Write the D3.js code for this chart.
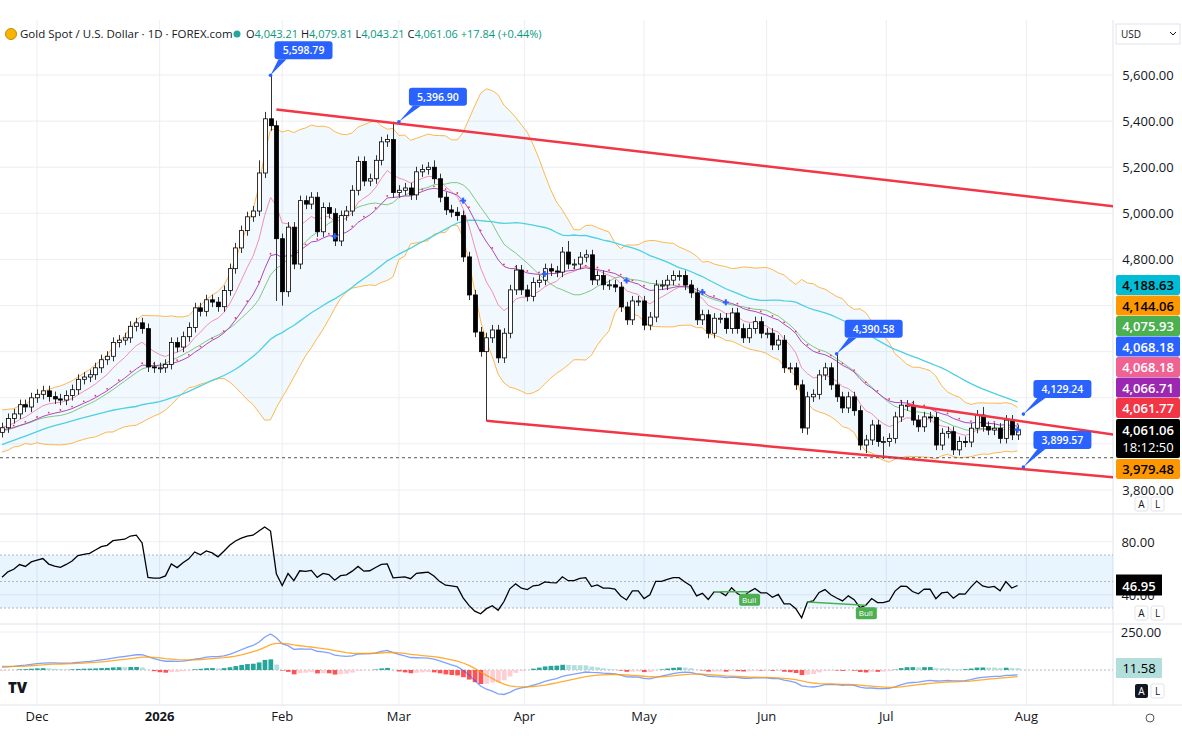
<!DOCTYPE html>
<html>
<head>
<meta charset="utf-8">
<script src="https://d3js.org/d3.v7.min.js"></script>
<style>
  body { margin: 0; background: #fff; font-family: "Open Sans", "Noto Sans", sans-serif; }
  svg text { font-family: "Open Sans", "Noto Sans", sans-serif; }
</style>
</head>
<body>
<svg id="chart" width="1182" height="752"></svg>
<script>
// closes before the visible window (warm-up for the indicators)
var preCloses = [3640,3660,3680,3700,3690,3710,3740,3760,3780,3820,3860,3850,3880,3900,3950,3980,4000,4040,4080,4120,
  4200,4250,4320,4360,4120,4100,4130,4080,3980,4010,4000,3990,3970,4000,3990,4050,4000,4080,4110,4120,
  4140,4080,4060,4030,4050,4070,4080,4050,4070,4100];

// visible daily closes
var closes = [
  4070,4110,4130,4170,4160,4200,
  4215,4230,4205,4195,4190,4210,4235,4280,4290,4300,4330,4365,4380,4440,4450,4460,4510,4525,4500,4334,4330,
  4330,4345,4440,4420,4465,4505,4590,4575,4625,4615,4595,4665,4760,4850,4925,4985,5010,5175,5410,5380,4890,
  4660,4940,4780,5055,5040,5070,4920,5025,5000,4880,4990,5010,5100,5225,5140,5150,5230,5310,5320,5090,
  5100,5110,5080,5180,5190,5200,5150,5070,5015,5005,4990,4811,4646,4485,4400,4460,4494,4373,4480,4668,4754,
  4668,4640,4700,4710,4760,4750,4745,4832,4780,4780,4810,4820,4711,4730,4690,4690,4680,4594,4538,4620,4620,
  4515,4550,4689,4689,4710,4730,4730,4689,4655,4538,4560,4480,4545,4545,4500,4568,4500,4460,4500,4530,
  4480,4480,4429,4450,4330,4330,4256,4069,4204,4215,4299,4330,4256,4204,4156,4204,4144,3995,4017,4082,4010,
  4010,4024,4117,4168,4165,4103,4074,4117,4115,3995,4046,4053,3974,4010,4008,4068,4125,4075,4060,4068,4024,4103,4039,4061.06
];
var firstOpen = 4050;
// notable wick extremes
var highMarks = {46: 5598.79, 67: 5396.90, 143: 4390.58, 44: 5230, 45: 5440, 74: 5230, 97: 4880, 168: 4160};
var lowMarks = {47: 4620, 48: 4600, 83: 4100, 138: 4040, 148: 3960, 151: 3935, 164: 3950};

var monthLabels = ["Dec","2026","Feb","Mar","Apr","May","Jun","Jul","Aug"];
var monthBars = [6, 27, 48, 68, 89.5, 110, 131, 151.5, 175.5];
var priceTicks = [3800,4000,4200,4400,4600,4800,5000,5200,5400,5600];

var tags = [
  {v:"4,188.63", bg:"#00bcd4", fg:"#000"},
  {v:"4,144.06", bg:"#ff9800", fg:"#000"},
  {v:"4,075.93", bg:"#4caf50", fg:"#fff"},
  {v:"4,068.18", bg:"#2962ff", fg:"#fff"},
  {v:"4,068.18", bg:"#f06292", fg:"#fff"},
  {v:"4,066.71", bg:"#9c27b0", fg:"#fff"},
  {v:"4,061.77", bg:"#f23645", fg:"#fff"}
];
var last = closes.length - 1;
var callouts = [
  {bar:46, v:5598.79, dx:4, dy:-20},
  {bar:68, v:5396.90, dx:10, dy:-20},
  {bar:143, v:4390.58, dx:8, dy:-20},
  {bar:last + 1, v:4129.24, dx:10, dy:-20},
  {bar:last + 1, v:3899.57, dx:10, dy:-22}
];
var crossBars = [57, 79, 93, 107, 120, 124, last];

// ---- indicators from the closes
var all = preCloses.concat(closes), off = preCloses.length;
function sma(a, n) { return a.map(function(d, i) { return i < n - 1 ? null : d3.mean(a.slice(i - n + 1, i + 1)); }); }
function ema(a, n) { var k = 2 / (n + 1), out = [], e = a[0]; a.forEach(function(d, i) { e = i ? d * k + e * (1 - k) : d; out.push(e); }); return out; }
var mid = sma(all, 20);
var sd = all.map(function(d, i) { return i < 19 ? null : d3.deviation(all.slice(i - 19, i + 1)) * Math.sqrt(19 / 20); });
var bbU = mid.map(function(m, i) { return m == null ? null : m + 2 * sd[i]; });
var bbL = mid.map(function(m, i) { return m == null ? null : m - 2 * sd[i]; });
var ema9 = ema(all, 9), ema21 = ema(all, 21), sma50 = sma(all, 50), sma20 = mid;
var e12 = ema(all, 12), e26 = ema(all, 26);
var macd = e12.map(function(d, i) { return d - e26[i]; });
var sig = ema(macd, 9);
var rsi = [], ag = 0, al = 0;
all.forEach(function(d, i) {
  if (i === 0) { rsi.push(50); return; }
  var ch = d - all[i - 1], g = Math.max(ch, 0), l = Math.max(-ch, 0);
  if (i <= 14) { ag += g / 14; al += l / 14; } else { ag = (ag * 13 + g) / 14; al = (al * 13 + l) / 14; }
  rsi.push(al === 0 ? 100 : 100 - 100 / (1 + ag / al));
});
function vis(a) { return a.slice(off); }

var svg = d3.select("#chart");
var W = 1113;
var x = d3.scaleBand().domain(d3.range(191)).range([0, W]).paddingInner(0.3);
function cx(i) { return x(Math.floor(i)) + x.bandwidth() / 2 + (i % 1) * x.step(); }
var y = d3.scaleLinear().domain([3800, 5600]).range([490, 75]);
var yr = d3.scaleLinear().domain([30, 70]).range([608, 555]);
var ym = d3.scaleLinear().domain([0, 250]).range([670, 632]);

// grid
var grid = svg.append("g").attr("stroke", "#eceef2");
monthBars.forEach(function(b) { grid.append("line").attr("x1", cx(b)).attr("x2", cx(b)).attr("y1", 20).attr("y2", 705); });
priceTicks.forEach(function(t) { grid.append("line").attr("x1", 0).attr("x2", W).attr("y1", y(t)).attr("y2", y(t)); });
[80, 40].forEach(function(t) { grid.append("line").attr("x1", 0).attr("x2", W).attr("y1", yr(t)).attr("y2", yr(t)); });
grid.append("line").attr("x1", 0).attr("x2", W).attr("y1", ym(250)).attr("y2", ym(250));
// pane separators
[514, 624, 705].forEach(function(v) { svg.append("line").attr("x1", 0).attr("x2", 1182).attr("y1", v).attr("y2", v).attr("stroke", "#e0e3eb"); });
svg.append("line").attr("x1", W).attr("x2", W).attr("y1", 20).attr("y2", 705).attr("stroke", "#e0e3eb");

svg.append("defs").append("clipPath").attr("id", "pc").append("rect").attr("x", 0).attr("y", 20).attr("width", W).attr("height", 494);
var pg = svg.append("g").attr("clip-path", "url(#pc)");

var idx = d3.range(closes.length);
var U = vis(bbU), L = vis(bbL);
pg.append("path").datum(idx).attr("fill", "rgba(33,150,243,0.06)")
  .attr("d", d3.area().x(cx).y0(function(i) { return y(L[i]); }).y1(function(i) { return y(U[i]); }));
function line(arr, color, w) {
  pg.append("path").datum(idx).attr("fill", "none").attr("stroke", color).attr("stroke-width", w || 1)
    .attr("d", d3.line().x(cx).y(function(i) { return y(arr[i]); }));
}
line(U, "#ffb74d"); line(L, "#ffb74d");
line(vis(sma50), "#4dd0e1", 1.3);
line(vis(ema9), "#f48fb1");
line(vis(sma20), "#81c784");
line(vis(ema21), "#ab47bc");
var e21 = vis(ema21);
pg.selectAll(".dot").data(idx.filter(function(i) { return i % 2 === 0; })).enter().append("circle")
  .attr("cx", cx).attr("cy", function(i) { return y(e21[i]) - 2; }).attr("r", 0.9).attr("fill", "#f23645");

// candles
var opens = closes.map(function(c, i) { return i ? closes[i - 1] : firstOpen; });
var cg = pg.append("g");
idx.forEach(function(i) {
  var o = opens[i], c = closes[i];
  var hi = highMarks[i] || Math.max(o, c) + 22, lo = lowMarks[i] || Math.min(o, c) - 22;
  var up = c >= o, xc = Math.round(cx(i)) + 0.5;
  cg.append("line").attr("x1", xc).attr("x2", xc).attr("y1", y(hi)).attr("y2", y(lo)).attr("stroke", "#333");
  cg.append("rect").attr("x", xc - 2).attr("width", 4)
    .attr("y", y(Math.max(o, c))).attr("height", Math.max(1, Math.abs(y(o) - y(c))))
    .attr("fill", up ? "#fff" : "#000").attr("stroke", "#000").attr("stroke-width", 0.8);
});
crossBars.forEach(function(i) {
  var g = pg.append("g").attr("transform", "translate(" + cx(i) + "," + y(i === last ? closes[i] : e21[i]) + ")").attr("stroke", "#2962ff").attr("stroke-width", 2);
  g.append("line").attr("x1", -3).attr("x2", 3); g.append("line").attr("y1", -3).attr("y2", 3);
});

// trend lines
function tl(b1, v1, b2, v2) {
  pg.append("line").attr("x1", cx(b1)).attr("y1", y(v1)).attr("x2", cx(b2)).attr("y2", y(v2))
    .attr("stroke", "#f23645").attr("stroke-width", 2.5);
}
tl(47, 5450, 190.5, 5030);
tl(83, 4100, 190.5, 3855);
tl(155, 4170, 190.5, 4040);
pg.append("line").attr("x1", 0).attr("x2", W).attr("y1", y(3940)).attr("y2", y(3940)).attr("stroke", "#555").attr("stroke-dasharray", "3,3");

// callouts
callouts.forEach(function(c) {
  var px = cx(c.bar), py = y(c.v), bx = px + c.dx, by = py + c.dy;
  var g = svg.append("g");
  g.append("path").attr("d", "M" + px + "," + py + "L" + (bx + 4) + "," + (by + 4) + "L" + (bx + 12) + "," + (by + 4) + "Z").attr("fill", "#2962ff");
  g.append("circle").attr("cx", px).attr("cy", py).attr("r", 1.8).attr("fill", "#2962ff");
  g.append("rect").attr("x", bx).attr("y", by - 14).attr("width", 58).attr("height", 18).attr("rx", 3).attr("fill", "#2962ff");
  g.append("text").attr("x", bx + 29).attr("y", by - 1).attr("text-anchor", "middle").attr("fill", "#fff")
    .attr("font-size", 10.5).attr("font-weight", 600).text(d3.format(",.2f")(c.v));
});

// price axis (labels under the value tags are hidden, as on the chart)
var ax = svg.append("g").attr("font-size", 13).attr("fill", "#131722");
priceTicks.filter(function(t) { return y(t) < 272 || y(t) > 482; }).forEach(function(t) {
  ax.append("text").attr("x", 1148).attr("y", y(t) + 5).attr("text-anchor", "middle").text(d3.format(",.2f")(t));
});
tags.forEach(function(t, k) {
  var ty = 285 + k * 20.5;
  svg.append("rect").attr("x", 1116).attr("y", ty - 10).attr("width", 64).attr("height", 20).attr("fill", t.bg).attr("rx", 2);
  svg.append("text").attr("x", 1148).attr("y", ty + 5).attr("text-anchor", "middle").attr("font-size", 13).attr("font-weight", 600).attr("fill", t.fg).text(t.v);
});
svg.append("rect").attr("x", 1116).attr("y", 419).attr("width", 64).attr("height", 39).attr("fill", "#000").attr("rx", 2);
svg.append("text").attr("x", 1148).attr("y", 435).attr("text-anchor", "middle").attr("font-size", 13).attr("font-weight", 600).attr("fill", "#fff").text("4,061.06");
svg.append("text").attr("x", 1148).attr("y", 452).attr("text-anchor", "middle").attr("font-size", 13).attr("fill", "#fff").text("18:12:50");
svg.append("rect").attr("x", 1116).attr("y", 459).attr("width", 64).attr("height", 20).attr("fill", "#ff9800").attr("rx", 2);
svg.append("text").attr("x", 1148).attr("y", 474).attr("text-anchor", "middle").attr("font-size", 13).attr("font-weight", 600).attr("fill", "#000").text("3,979.48");

// RSI
var rg = svg.append("g");
rg.append("rect").attr("x", 0).attr("y", yr(70)).attr("width", W).attr("height", yr(30) - yr(70)).attr("fill", "rgba(33,150,243,0.1)");
[70, 50, 30].forEach(function(t) { rg.append("line").attr("x1", 0).attr("x2", W).attr("y1", yr(t)).attr("y2", yr(t)).attr("stroke", "#b2b5be").attr("stroke-dasharray", "2,2"); });
var R = vis(rsi);
rg.append("path").datum(idx).attr("fill", "none").attr("stroke", "#000").attr("stroke-width", 1.3)
  .attr("d", d3.line().x(cx).y(function(i) { return yr(R[i]); }));
[[122, 128], [138, 148]].forEach(function(p) {
  rg.append("line").attr("x1", cx(p[0])).attr("y1", yr(R[p[0]])).attr("x2", cx(p[1])).attr("y2", yr(R[p[1]])).attr("stroke", "#4caf50").attr("stroke-width", 1.5);
  rg.append("rect").attr("x", cx(p[1]) - 10).attr("y", yr(R[p[1]]) + 2).attr("width", 21).attr("height", 12).attr("rx", 2).attr("fill", "#4caf50");
  rg.append("text").attr("x", cx(p[1])).attr("y", yr(R[p[1]]) + 11).attr("text-anchor", "middle").attr("font-size", 8).attr("fill", "#fff").text("Bull");
});
ax.append("text").attr("x", 1138).attr("y", yr(80) + 5).attr("text-anchor", "middle").text("80.00");
ax.append("text").attr("x", 1138).attr("y", yr(40) + 5).attr("text-anchor", "middle").text("40.00");
var ry = yr(R[last]);
svg.append("rect").attr("x", 1116).attr("y", ry - 11).attr("width", 46).attr("height", 21).attr("fill", "#000");
svg.append("text").attr("x", 1139).attr("y", ry + 5).attr("text-anchor", "middle").attr("font-size", 13).attr("font-weight", 600).attr("fill", "#fff").text("46.95");

// MACD
var M = vis(macd), S = vis(sig);
var mg = svg.append("g");
mg.append("line").attr("x1", 0).attr("x2", W).attr("y1", ym(0)).attr("y2", ym(0)).attr("stroke", "#b2b5be").attr("stroke-dasharray", "2,2");
idx.forEach(function(i) {
  var h = M[i] - S[i], hp = i ? M[i - 1] - S[i - 1] : h;
  var col = h >= 0 ? (h >= hp ? "#26a69a" : "#b2dfdb") : (h < hp ? "#ff5252" : "#ffcdd2");
  mg.append("rect").attr("x", x(i)).attr("width", x.bandwidth() + 0.6).attr("y", Math.min(ym(0), ym(h))).attr("height", Math.abs(ym(h) - ym(0))).attr("fill", col);
});
mg.append("path").datum(idx).attr("fill", "none").attr("stroke", "#2962ff").attr("stroke-opacity", 0.6).attr("stroke-width", 1.3)
  .attr("d", d3.line().x(cx).y(function(i) { return ym(M[i]); }));
mg.append("path").datum(idx).attr("fill", "none").attr("stroke", "#ff9800").attr("stroke-opacity", 0.8).attr("stroke-width", 1.3)
  .attr("d", d3.line().x(cx).y(function(i) { return ym(S[i]); }));
ax.append("text").attr("x", 1141).attr("y", ym(250) + 5).attr("text-anchor", "middle").text("250.00");
svg.append("rect").attr("x", 1116).attr("y", 658).attr("width", 46).attr("height", 20).attr("fill", "#b2dfdb");
svg.append("text").attr("x", 1139).attr("y", 673).attr("text-anchor", "middle").attr("font-size", 13).attr("fill", "#000").text("11.58");

// time axis
monthLabels.forEach(function(m, k) {
  svg.append("text").attr("x", cx(monthBars[k])).attr("y", 721).attr("text-anchor", "middle").attr("font-size", 13)
    .attr("font-weight", m === "2026" ? 700 : 400).attr("fill", "#131722").text(m);
});

// small buttons
function btn(bx, by, t, dark) {
  svg.append("rect").attr("x", bx).attr("y", by).attr("width", 13).attr("height", 14).attr("rx", 2).attr("fill", dark ? "#131722" : "#fff").attr("stroke", dark ? "none" : "#e0e3eb");
  svg.append("text").attr("x", bx + 6.5).attr("y", by + 11).attr("text-anchor", "middle").attr("font-size", 10).attr("fill", dark ? "#fff" : "#131722").text(t);
}
btn(1135, 497, "A"); btn(1151, 497, "L");
btn(1135, 606, "A"); btn(1151, 606, "L");
btn(1135, 684, "A", true); btn(1151, 684, "L");
svg.append("circle").attr("cx", 1150).attr("cy", 718).attr("r", 4).attr("fill", "none").attr("stroke", "#555");
svg.append("text").attr("x", 8).attr("y", 693).attr("font-size", 15).attr("font-weight", 900).attr("fill", "#131722").text("TV");

// legend
svg.append("circle").attr("cx", 11).attr("cy", 34).attr("r", 5.5).attr("fill", "#f7b500").attr("stroke", "#c88a00");
svg.append("text").attr("x", 20).attr("y", 38).attr("font-size", 11.5).attr("fill", "#131722").text("Gold Spot / U.S. Dollar · 1D · FOREX.com");
svg.append("circle").attr("cx", 237).attr("cy", 34).attr("r", 3.5).attr("fill", "#26a69a");
var lg = svg.append("text").attr("x", 246).attr("y", 38).attr("font-size", 11);
[["O", "4,043.21 "], ["H", "4,079.81 "], ["L", "4,043.21 "], ["C", "4,061.06 +17.84 (+0.44%)"]].forEach(function(p) {
  lg.append("tspan").attr("fill", "#131722").text(p[0]);
  lg.append("tspan").attr("fill", "#089981").text(p[1]);
});
svg.append("rect").attr("x", 1116).attr("y", 24).attr("width", 64).attr("height", 20).attr("fill", "#fff").attr("stroke", "#e0e3eb");
svg.append("text").attr("x", 1121).attr("y", 38).attr("font-size", 10).attr("fill", "#131722").text("USD");
svg.append("path").attr("d", "M1170,32 l3,3 l3,-3").attr("fill", "none").attr("stroke", "#131722");
</script>
</body>
</html>
